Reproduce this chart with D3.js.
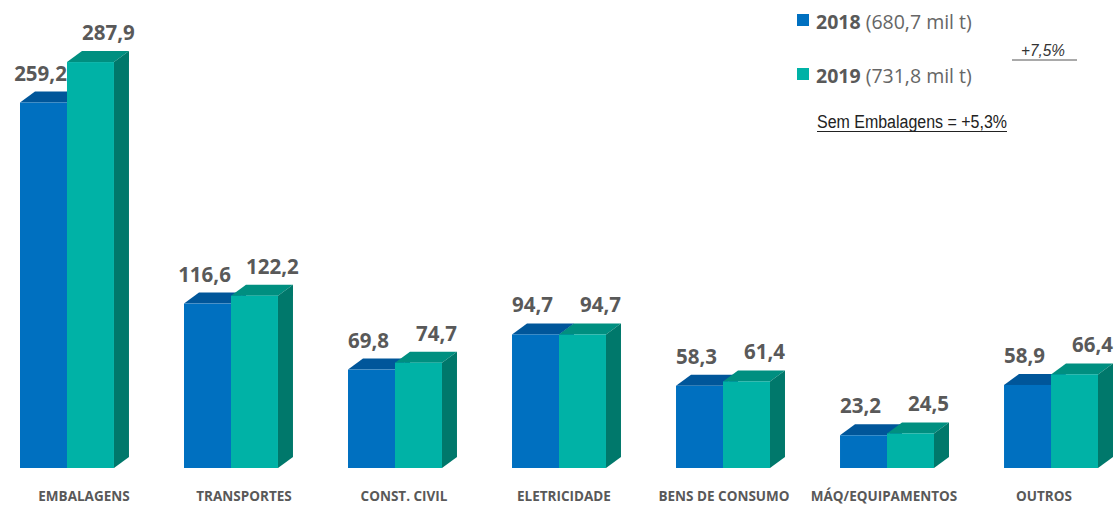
<!DOCTYPE html>
<html><head><meta charset="utf-8">
<script src="https://cdn.jsdelivr.net/npm/d3@7"></script>
<style>html,body{margin:0;padding:0;background:#fff;}svg{display:block;}</style>
</head><body>
<svg id="c" width="1117" height="505"></svg>
<script>
const categories = ["EMBALAGENS","TRANSPORTES","CONST. CIVIL","ELETRICIDADE","BENS DE CONSUMO","MÁQ/EQUIPAMENTOS","OUTROS"];
const series = ["2018","2019"];
const values2018 = [259.2,116.6,69.8,94.7,58.3,23.2,58.9];
const values2019 = [287.9,122.2,74.7,94.7,61.4,24.5,66.4];
const legendTotals = ["(680,7 mil t)","(731,8 mil t)"];
const noteGrowth = "+7,5%";
const noteNoPack = "Sem Embalagens  = +5,3%";

const colors = {
  "2018": {front:"#0070C0", top:"#00569A", side:"#004F8C"},
  "2019": {front:"#00B2A6", top:"#008F80", side:"#00786B"}
};
const fmt = v => d3.format(".1f")(v).replace(".", ",");
const svg = d3.select("#c");
const y = d3.scaleLinear().domain([0,300]).range([468,45]);
const x = d3.scaleBand().domain(categories).range([20,1098]).paddingInner(0.427).paddingOuter(0);
const xs = d3.scaleBand().domain(series).range([0,x.bandwidth()]);
const xl = d3.scalePoint().domain(categories).range([84,1044]);
const dx = 15, dy = 11;
const vals = {"2018": values2018, "2019": values2019};

categories.forEach((c,i)=>{
  const g = svg.append("g");
  series.forEach(s=>{
    const v = vals[s][i];
    const x0 = x(c)+xs(s), w = xs.bandwidth(), yt = y(v), yb = y(0);
    const col = colors[s];
    g.append("polygon").attr("points",[[x0,yt],[x0+w,yt],[x0+w+dx,yt-dy],[x0+dx,yt-dy]].join(" ")).attr("fill",col.top);
    g.append("polygon").attr("points",[[x0+w,yt],[x0+w+dx,yt-dy],[x0+w+dx,yb-dy],[x0+w,yb]].join(" ")).attr("fill",col.side);
    g.append("rect").attr("x",x0).attr("y",yt).attr("width",w).attr("height",yb-yt).attr("fill",col.front);
  });
  series.forEach(s=>{
    const v = vals[s][i];
    const cx = x(c)+xs(s)+xs.bandwidth()/2 + (s==="2018"? -3 : 18);
    svg.append("text").attr("x",cx).attr("y",y(v)-22).attr("text-anchor","middle")
      .attr("font-family","'Open Sans', sans-serif").attr("font-weight","bold").attr("font-size",20.5)
      .attr("fill","#595959").text(fmt(v));
  });
  svg.append("text").attr("x",xl(c)).attr("y",501).attr("text-anchor","middle")
    .attr("font-family","'Open Sans', sans-serif").attr("font-weight","bold").attr("font-size",13.5)
    .attr("fill","#595959").text(c);
});

// legend
const leg = svg.append("g");
series.forEach((s,i)=>{
  const yy = 14 + i*54;
  leg.append("rect").attr("x",797).attr("y",yy).attr("width",12).attr("height",12).attr("fill",colors[s].front);
  const t = leg.append("text").attr("x",816).attr("y",yy+15).attr("font-family","'Open Sans', sans-serif")
    .attr("font-size",19.5).attr("fill","#666");
  t.append("tspan").attr("font-weight","bold").attr("fill","#595959").text(s);
  t.append("tspan").text(" "+legendTotals[i]);
});
leg.append("text").attr("x",1043).attr("y",56).attr("text-anchor","middle")
  .attr("font-family","'Liberation Sans Narrow','Liberation Sans',Arial,sans-serif").attr("font-style","italic")
  .attr("font-size",17).attr("fill","#333").attr("textLength",44).attr("lengthAdjust","spacingAndGlyphs").text(noteGrowth);
leg.append("line").attr("x1",1012).attr("x2",1077).attr("y1",60).attr("y2",60).attr("stroke","#555").attr("stroke-width",1);
leg.append("text").attr("x",817).attr("y",128)
  .attr("font-family","'Liberation Sans Narrow','Liberation Sans',Arial,sans-serif")
  .attr("font-size",18).attr("fill","#222").attr("textLength",190).attr("lengthAdjust","spacingAndGlyphs").text(noteNoPack);
leg.append("line").attr("x1",817).attr("x2",1007).attr("y1",131.5).attr("y2",131.5).attr("stroke","#222").attr("stroke-width",1);
</script>
</body></html>
